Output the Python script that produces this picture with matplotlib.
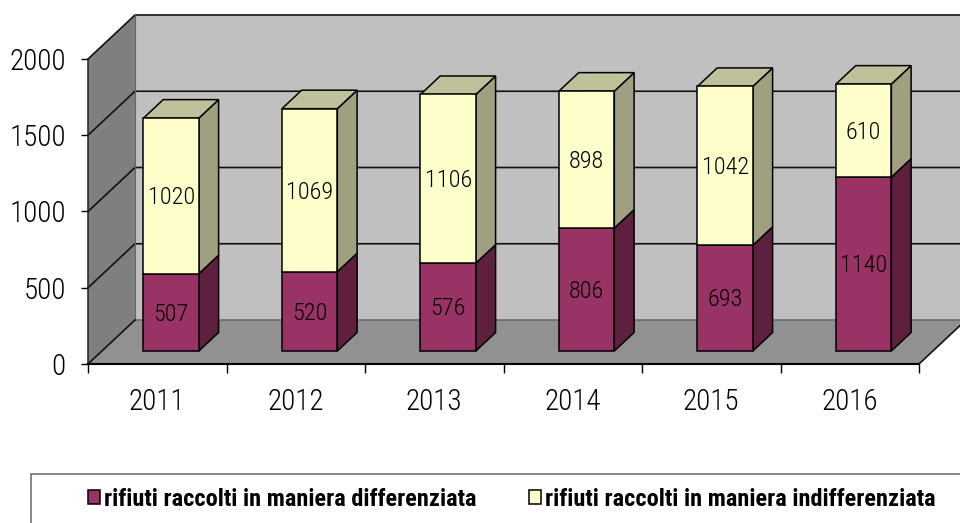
""" Stacked bars of collected waste per year, with a drawn 3D look. """
import matplotlib
matplotlib.use('Agg')
import matplotlib.pyplot as plt
from matplotlib.patches import Patch, Polygon, Rectangle

plt.rcParams['font.family'] = ['Roboto Condensed', 'Archivo Narrow', 'Liberation Sans', 'DejaVu Sans']
plt.rcParams['font.weight'] = 'light'

years = ['2011', '2012', '2013', '2014', '2015', '2016']
differenziata = [507, 520, 576, 806, 693, 1140]
indifferenziata = [1020, 1069, 1106, 898, 1042, 610]
y_ticks = [0, 500, 1000, 1500, 2000]
names = ['rifiuti raccolti in maniera differenziata',
         'rifiuti raccolti in maniera indifferenziata']

# depth of the box, in axis units
DX = 47 / 138.5
DY = 44 / 0.1525
BAR_W = 0.4
BAR_GAP = 0.3
BAR_START = 13 / 44
BAR_DEPTH = 18.5 / 44


def poly(axes, pts, color, edge='black', lw=1.1, z=1):
    axes.add_patch(Polygon(pts, closed=True, facecolor=color, edgecolor=edge,
                           linewidth=lw, zorder=z, clip_on=False))


def draw_box(axes):
    n = len(years)
    poly(axes, [(DX, DY), (n + DX, DY), (n + DX, 2000 + DY), (DX, 2000 + DY)], '#C0C0C0', 'none')
    poly(axes, [(0, 0), (DX, DY), (n + DX, DY), (n, 0)], '#919191', 'none')
    poly(axes, [(0, 0), (DX, DY), (DX, 2000 + DY), (0, 2000)], '#7F7F7F', 'none')
    for v in y_ticks[1:]:
        axes.plot([0, DX, n + DX], [v, v + DY, v + DY], color='#111111', lw=1.2,
                  zorder=1.5, clip_on=False)
    axes.plot([DX, n + DX], [DY, DY], color='#666666', lw=1.1, zorder=1.5, clip_on=False)
    axes.plot([DX, DX], [DY, 2000 + DY], color='#666666', lw=0.8, zorder=1.5, clip_on=False)
    axes.plot([0, DX], [0, DY], color='#111111', lw=1.2, zorder=1.6, clip_on=False)
    axes.plot([n, n + DX], [0, DY], color='#111111', lw=1.2, zorder=1.6, clip_on=False)
    axes.plot([0, 0], [0, 2000], color='#222222', lw=1.1, zorder=1.6, clip_on=False)
    axes.plot([0, n], [0, 0], color='black', lw=1.5, zorder=1.6, clip_on=False)


def draw_bar(axes, i, low, value, front, side, top=None):
    x0 = i + BAR_GAP + BAR_START * DX
    x1 = x0 + BAR_W
    y0 = low + BAR_START * DY
    y1 = y0 + value
    ddx = BAR_DEPTH * DX
    ddy = BAR_DEPTH * DY
    poly(axes, [(x1, y0), (x1 + ddx, y0 + ddy), (x1 + ddx, y1 + ddy), (x1, y1)], side, z=3)
    if top:
        poly(axes, [(x0, y1), (x1, y1), (x1 + ddx, y1 + ddy), (x0 + ddx, y1 + ddy)], top, z=3)
    poly(axes, [(x0, y0), (x1, y0), (x1, y1), (x0, y1)], front, z=3.1)
    axes.text((x0 + x1) / 2, (y0 + y1) / 2 - 12, str(value), ha='center', va='center',
              fontsize=17.5, color='black', zorder=4)


figure = plt.figure(figsize=(9.6, 5.23), dpi=100)
axes = figure.add_axes([88 / 960, (523 - 364) / 523, 831 / 960, 305 / 523])
axes.set_xlim(0, len(years))
axes.set_ylim(0, 2000)
axes.patch.set_visible(False)
for spine in axes.spines.values():
    spine.set_visible(False)

draw_box(axes)
for i in range(len(years)):
    draw_bar(axes, i, 0, differenziata[i], '#993366', '#5F1F3F')
    draw_bar(axes, i, differenziata[i], indifferenziata[i], '#FFFFCC', '#A0A080', '#C0C09A')

axes.set_yticks(y_ticks)
axes.set_xticks(range(len(years) + 1))
axes.set_xticklabels([])
axes.set_xticks([i + 0.5 for i in range(len(years))], minor=True)
axes.set_xticklabels(years, minor=True, fontsize=21)
axes.tick_params(axis='y', labelsize=21, length=5, width=1, pad=11)
axes.tick_params(axis='x', which='major', length=6.5, width=1)
axes.tick_params(axis='x', which='minor', length=0, pad=17)

figure.add_artist(Rectangle((31 / 960, -0.1), 1.1, (523 - 474) / 523 + 0.1,
                            transform=figure.transFigure, facecolor='white',
                            edgecolor='#666666', linewidth=1.1))
handles = [Patch(facecolor='#993366', edgecolor='black', linewidth=1.1),
           Patch(facecolor='#FFFFCC', edgecolor='black', linewidth=1.1)]
figure.legend(handles, names, ncols=2, frameon=False, loc='center',
              bbox_to_anchor=(512 / 960, (523 - 499) / 523),
              prop={'weight': 'bold', 'size': 17.6},
              handlelength=0.5, handleheight=0.5, handletextpad=0.15, columnspacing=2.15)

figure.savefig('out.png', dpi=100)
